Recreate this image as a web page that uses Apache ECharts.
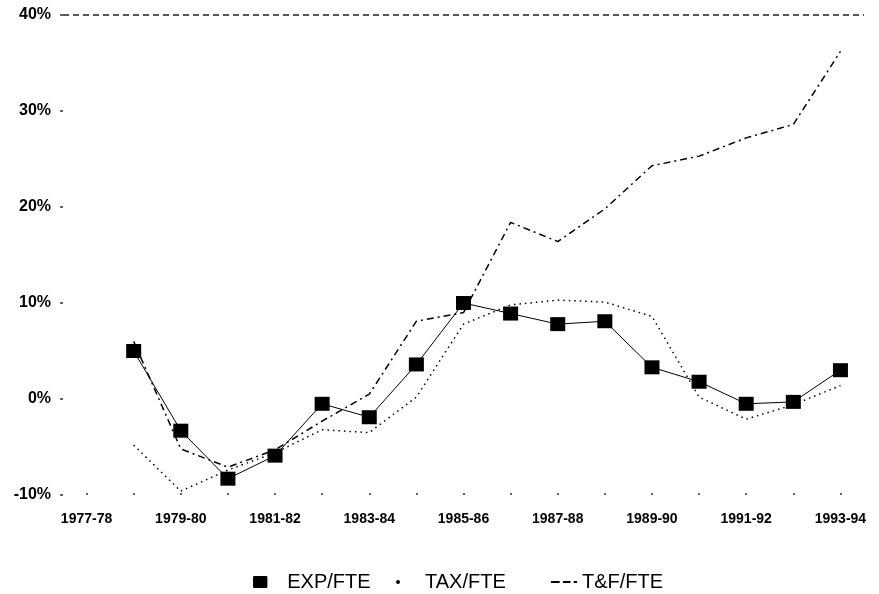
<!DOCTYPE html>
<html>
<head>
<meta charset="utf-8">
<script src="https://cdn.jsdelivr.net/npm/echarts@6/dist/echarts.min.js"></script>
<style>
  html, body { margin: 0; padding: 0; background: #fff; }
  #chart { width: 879px; height: 594px; }
</style>
</head>
<body>
<div id="chart"></div>
<script>
// ---- data (percent) ----
const categories = ['1977-78','1978-79','1979-80','1980-81','1981-82','1982-83','1983-84','1984-85',
  '1985-86','1986-87','1987-88','1988-89','1989-90','1990-91','1991-92','1992-93','1993-94'];
const expFte = [null, 5.0, -3.3, -8.3, -5.9, -0.5, -1.9, 3.6, 10.0, 8.9, 7.8, 8.1, 3.3, 1.8, -0.5, -0.3, 3.0];
const taxFte = [null, -4.8, -9.6, -7.4, -5.6, -3.2, -3.5, 0.2, 7.8, 9.8, 10.3, 10.1, 8.6, 0.2, -2.1, -0.6, 1.4];
const tfFte  = [null, 6.0, -5.2, -7.1, -5.3, -2.3, 0.5, 8.1, 9.0, 18.4, 16.4, 19.8, 24.3, 25.3, 27.2, 28.6, 36.2];
const yTicks = { min: -10, max: 40, step: 10 };
const seriesNames = ['EXP/FTE', 'TAX/FTE', 'T&F/FTE'];

const FONT = 'Liberation Sans, Arial, sans-serif';
const chart = echarts.init(document.getElementById('chart'), null, { renderer: 'canvas' });

const legendBase = {
  orient: 'horizontal',
  itemGap: 0,
  textStyle: { color: '#000', fontSize: 20, fontFamily: FONT },
  selectedMode: false,
  top: 567
};

chart.setOption({
  animation: false,
  backgroundColor: '#fff',
  grid: { left: 63, right: 15, top: 15, bottom: 99 },
  legend: [
    Object.assign({}, legendBase, {
      data: [seriesNames[0]], left: 248, itemWidth: 44, itemHeight: 12,
      icon: 'path://M1,0h10a1,1 0 0 1 1,1v8a1,1 0 0 1 -1,1h-10a1,1 0 0 1 -1,-1v-8a1,1 0 0 1 1,-1z'
    }),
    Object.assign({}, legendBase, {
      data: [seriesNames[1]], left: 391, itemWidth: 44, itemHeight: 4, icon: 'circle'
    }),
    Object.assign({}, legendBase, {
      data: [seriesNames[2]], left: 546, itemWidth: 26, itemHeight: 3,
      icon: 'path://M0,0h8v2h-8z M11,0h7v2h-7z M21,0h3v2h-3z'
    })
  ],
  xAxis: {
    type: 'category',
    data: categories,
    boundaryGap: true,
    axisLine: { show: false, onZero: false },
    axisTick: { show: true, inside: true, alignWithLabel: true, length: 2, interval: 0,
      lineStyle: { color: '#333', width: 1.5 } },
    axisLabel: { interval: 1, margin: 17, color: '#000', fontSize: 14, fontWeight: 'bold', fontFamily: FONT },
    splitLine: { show: false }
  },
  yAxis: {
    type: 'value',
    min: yTicks.min, max: yTicks.max, interval: yTicks.step,
    axisLine: { show: false },
    axisTick: { show: true, length: 3, lineStyle: { color: '#333', width: 1.5 } },
    axisLabel: { margin: 12, color: '#000', fontSize: 16, fontWeight: 'bold', fontFamily: FONT,
      formatter: v => v + '%' },
    splitLine: { show: false }
  },
  series: [
    {
      name: seriesNames[0], type: 'line', data: expFte,
      symbol: 'rect', symbolSize: [15, 14],
      itemStyle: { color: '#000' },
      lineStyle: { color: '#000', width: 1 },
      connectNulls: false,
      markLine: {
        silent: true, symbol: 'none', label: { show: false },
        lineStyle: { color: '#222', width: 1.5, type: [6, 4] },
        data: [{ yAxis: yTicks.max }]
      },
      z: 5
    },
    {
      name: seriesNames[1], type: 'line', data: taxFte,
      symbol: 'none', showSymbol: false,
      itemStyle: { color: '#000' },
      lineStyle: { color: '#000', width: 1.5, type: [1.5, 4] }
    },
    {
      name: seriesNames[2], type: 'line', data: tfFte,
      symbol: 'none', showSymbol: false,
      itemStyle: { color: '#000' },
      lineStyle: { color: '#000', width: 1.5, type: [7, 4, 2, 4] }
    }
  ]
});
</script>
</body>
</html>
